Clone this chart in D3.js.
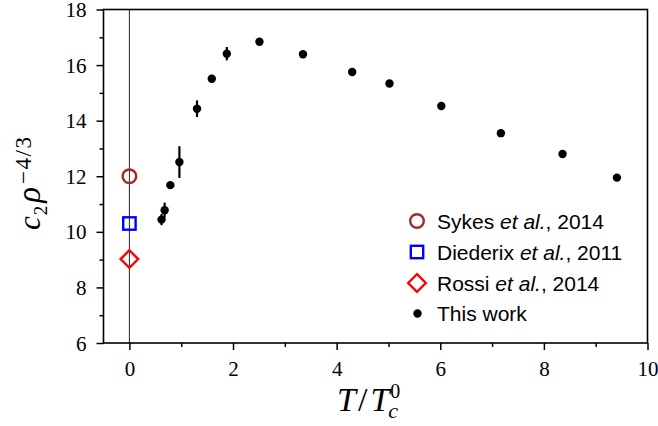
<!DOCTYPE html>
<html>
<head>
<meta charset="utf-8">
<script src="https://cdn.jsdelivr.net/npm/d3@7"></script>
<style>
  body { margin: 0; background: #fff; }
  svg { display: block; }
</style>
</head>
<body>
<svg id="chart" width="658" height="426"></svg>
<script>
// values
var thisWorkT   = [0.62, 0.68, 0.79, 0.965, 1.305, 1.59, 1.88, 2.51, 3.35, 4.30, 5.02, 6.02, 7.17, 8.36, 9.41];
var thisWorkC   = [10.44, 10.78, 11.68, 12.51, 14.43, 15.51, 16.41, 16.84, 16.39, 15.75, 15.34, 14.53, 13.55, 12.80, 11.95];
var thisWorkErr = [0.20, 0.27, 0.12, 0.57, 0.30, 0.08, 0.24, 0.08, 0.05, 0.05, 0.05, 0.05, 0.05, 0.05, 0.05];

var refNames   = ["Sykes", "Diederix", "Rossi"];
var refYears   = ["2014", "2011", "2014"];
var refT       = [0, 0, 0];
var refC       = [12.0, 10.3, 9.02];
var refColors  = ["#a52a2a", "#0000ff", "#ff0000"];
var refSymbols = ["circle", "square", "diamond"];

var xTicks = [0, 2, 4, 6, 8, 10];
var yTicks = [6, 8, 10, 12, 14, 16, 18];
var xMinor = [1, 3, 5, 7, 9];
var yMinor = [7, 9, 11, 13, 15, 17];

var svg = d3.select("#chart");
var margin = {left: 103.5, right: 647.5, top: 9.5, bottom: 343};

var x = d3.scaleLinear().domain([-0.5, 10]).range([margin.left, margin.right]);
var y = d3.scaleLinear().domain([6, 18]).range([margin.bottom, margin.top]);

// vertical line at T = 0
svg.append("line")
    .attr("x1", x(0)).attr("x2", x(0))
    .attr("y1", margin.top).attr("y2", margin.bottom)
    .style("stroke", "#222").style("stroke-width", 1);

// axes
var xAxis = svg.append("g")
    .attr("transform", `translate(0,${margin.bottom})`)
    .call(d3.axisBottom(x).tickValues(xTicks).tickSize(7).tickSizeOuter(0).tickPadding(8).tickFormat(d3.format("d")));
svg.append("g")
    .attr("transform", `translate(0,${margin.bottom})`)
    .call(d3.axisBottom(x).tickValues(xMinor).tickSize(4).tickSizeOuter(0).tickFormat(""));

var yAxis = svg.append("g")
    .attr("transform", `translate(${margin.left},0)`)
    .call(d3.axisLeft(y).tickValues(yTicks).tickSize(7).tickSizeOuter(0).tickPadding(10).tickFormat(d3.format("d")));
svg.append("g")
    .attr("transform", `translate(${margin.left},0)`)
    .call(d3.axisLeft(y).tickValues(yMinor).tickSize(4).tickSizeOuter(0).tickFormat(""));

svg.selectAll(".domain").remove();
svg.selectAll(".tick line").style("stroke", "#000").style("stroke-width", 1.5);
[xAxis, yAxis].forEach(a => {
    a.attr("font-family", "Liberation Serif").attr("font-size", 21);
    a.selectAll("text")
        .attr("font-family", "Liberation Serif")
        .attr("font-size", 21)
        .attr("fill", "#000");
});
xAxis.selectAll(".tick text").attr("dy", "0.85em");
yAxis.selectAll(".tick text").attr("dy", "0.34em");

// frame
svg.append("rect")
    .attr("x", margin.left).attr("y", margin.top)
    .attr("width", margin.right - margin.left)
    .attr("height", margin.bottom - margin.top)
    .style("fill", "none").style("stroke", "#000").style("stroke-width", 1.6);

// error bars
var pts = thisWorkT.map((t, i) => ({t: t, c: thisWorkC[i], e: thisWorkErr[i]}));
svg.append("g").selectAll("line.err")
    .data(pts)
    .enter()
    .append("line")
    .attr("class", "err")
    .attr("x1", d => x(d.t)).attr("x2", d => x(d.t))
    .attr("y1", d => y(d.c - d.e)).attr("y2", d => y(d.c + d.e))
    .style("stroke", "#000").style("stroke-width", 2.2);

svg.append("g").selectAll("circle.pt")
    .data(pts)
    .enter()
    .append("circle")
    .attr("class", "pt")
    .attr("cx", d => x(d.t)).attr("cy", d => y(d.c))
    .attr("r", 4.2)
    .style("fill", "#000");

function marker(sel, sym, color) {
    if (sym == "circle") {
        sel.append("circle").attr("r", 6.8);
    } else if (sym == "square") {
        sel.append("rect").attr("x", -6.2).attr("y", -6.2).attr("width", 12.4).attr("height", 12.4);
    } else {
        sel.append("path").attr("d", "M0,-8.8L8.8,0L0,8.8L-8.8,0Z");
    }
    sel.selectAll("*").style("fill", "none").style("stroke", color).style("stroke-width", 2.4);
}

refT.forEach((t, i) => {
    var g = svg.append("g").attr("transform", `translate(${x(t)},${y(refC[i])})`);
    marker(g, refSymbols[i], refColors[i]);
});

// legend
var legY = [221, 252, 283, 313.5];
var legend = svg.append("g");
refNames.forEach((n, i) => {
    var g = legend.append("g").attr("transform", `translate(417,${legY[i]})`);
    marker(g, refSymbols[i], refColors[i]);
    var t = legend.append("text")
        .attr("x", 437).attr("y", legY[i]).attr("dy", "0.36em")
        .style("font-family", "'Liberation Sans', sans-serif").style("font-size", "21px");
    t.append("tspan").text(n + " ");
    t.append("tspan").style("font-style", "italic").text("et al.");
    t.append("tspan").text(", " + refYears[i]);
});
legend.append("circle").attr("cx", 417.5).attr("cy", legY[3]).attr("r", 4.2).style("fill", "#000");
legend.append("text")
    .attr("x", 437).attr("y", legY[3]).attr("dy", "0.36em")
    .style("font-family", "'Liberation Sans', sans-serif").style("font-size", "21px")
    .text("This work");

// axis labels
var xl = svg.append("text")
    .attr("x", 337).attr("y", 411)
    .style("font-family", "'Liberation Serif', serif").style("font-size", "34px");
xl.append("tspan").style("font-style", "italic").text("T");
xl.append("tspan").attr("dx", 2).text("/");
xl.append("tspan").attr("dx", 3).style("font-style", "italic").text("T");
xl.append("tspan").attr("dx", 1).attr("dy", -13).style("font-size", "20px").text("0");
xl.append("tspan").attr("dx", -12).attr("dy", 20).style("font-size", "22px").style("font-style", "italic").text("c");

var yl = svg.append("text")
    .attr("transform", "translate(40,230) rotate(-90)")
    .style("font-family", "'Liberation Serif', serif").style("font-size", "31px");
yl.append("tspan").style("font-style", "italic").text("c");
yl.append("tspan").attr("dx", 1).attr("dy", 7).style("font-size", "19px").text("2");
yl.append("tspan").attr("dx", 3).attr("dy", -7).style("font-size", "33px").style("font-style", "italic").text("ρ");
yl.append("tspan").attr("dx", 3).attr("dy", -9).style("font-size", "23px").style("letter-spacing", "1.5px").text("−4/3");
</script>
</body>
</html>
